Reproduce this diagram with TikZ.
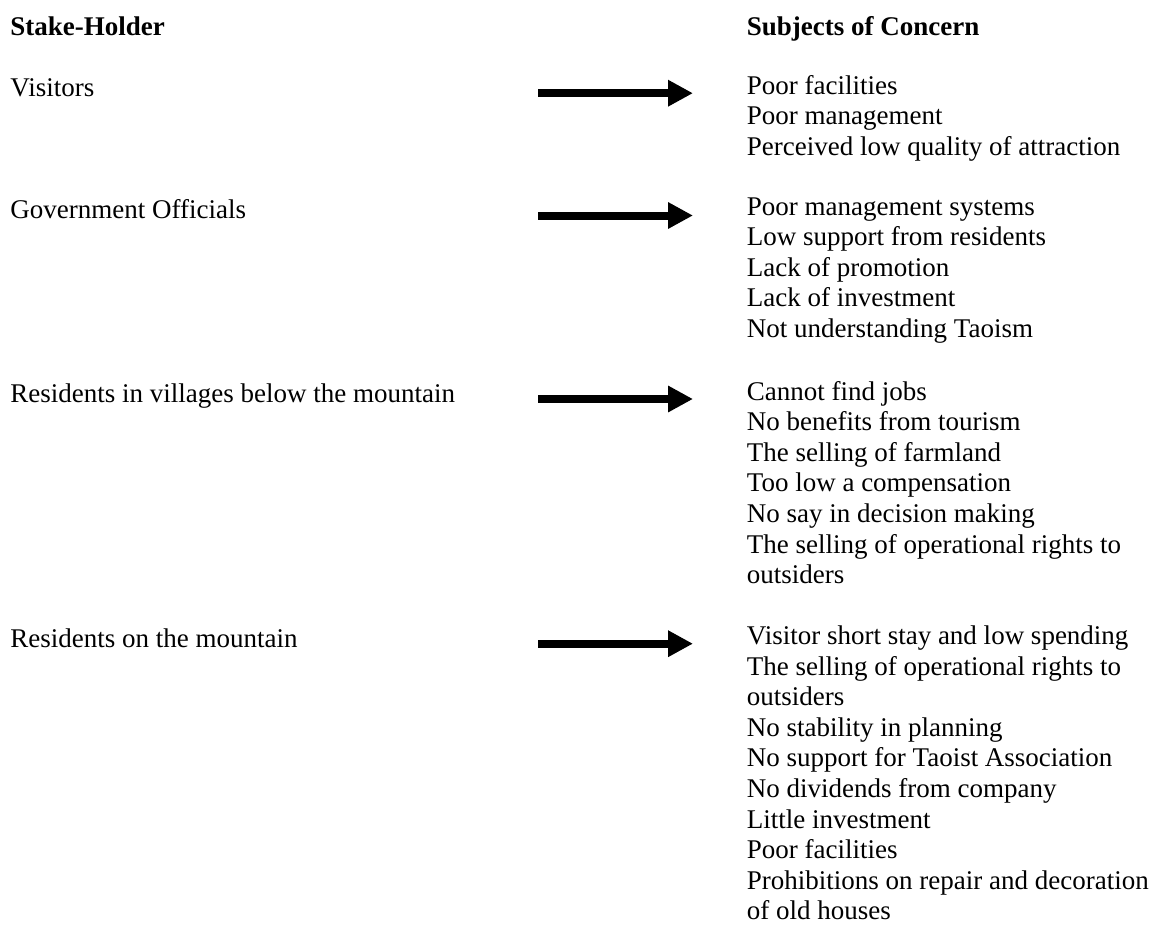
\documentclass[tikz,border=0pt]{standalone}
\usepackage{fontspec}
\setmainfont{Liberation Serif}
\usetikzlibrary{arrows.meta}

\tikzset{
  entry/.style={anchor=north west, inner sep=0pt, align=left,
    font=\fontsize{13.5}{15.3}\selectfont, execute at begin node=\strut},
  hdr/.style={entry, font=\fontsize{13.5}{15.3}\selectfont\bfseries},
  fatarrow/.style={line width=4pt, -{Triangle[length=12.5pt,width=12.5pt]}}
}

\begin{document}
\begin{tikzpicture}[x=0.5pt,y=-0.5pt]
\useasboundingbox (0,0) rectangle (1153,926);

% Column headings
\node[hdr] (holder) at (10,13.6) {Stake-Holder};
\node[hdr] (concern) at (746.5,13.6) {Subjects of Concern};

% Stake-holders
\node[entry] (visitors) at (10,74.8) {Visitors};
\node[entry] (officials) at (10,197.1) {Government Officials};
\node[entry] (villagers) at (10,380.6) {Residents in villages below the mountain};
\node[entry] (mountain) at (10,625.3) {Residents on the mountain};

% Subjects of concern
\node[entry] (visitorsC) at (746.5,74.8) {Poor facilities\\Poor management\\Perceived low quality of attraction};
\node[entry] (officialsC) at (746.5,197.1) {Poor management systems\\Low support from residents\\Lack of promotion\\Lack of investment\\Not understanding Taoism};
\node[entry] (villagersC) at (746.5,380.6) {Cannot find jobs\\No benefits from tourism\\The selling of farmland\\Too low a compensation\\No say in decision making\\The selling of operational rights to\\outsiders};
\node[entry] (mountainC) at (746.5,625.3) {Visitor short stay and low spending\\The selling of operational rights to\\outsiders\\No stability in planning\\No support for Taoist Association\\No dividends from company\\Little investment\\Poor facilities\\Prohibitions on repair and decoration\\of old houses};

% Arrows
\coordinate (a1s) at (538,93.2);   \coordinate (a1e) at (693,93.2);
\coordinate (a2s) at (538,215.5);  \coordinate (a2e) at (693,215.5);
\coordinate (a3s) at (538,399);    \coordinate (a3e) at (693,399);
\coordinate (a4s) at (538,643.7);  \coordinate (a4e) at (693,643.7);
\draw[fatarrow] (a1s) -- (a1e);
\draw[fatarrow] (a2s) -- (a2e);
\draw[fatarrow] (a3s) -- (a3e);
\draw[fatarrow] (a4s) -- (a4e);
\end{tikzpicture}
\end{document}
